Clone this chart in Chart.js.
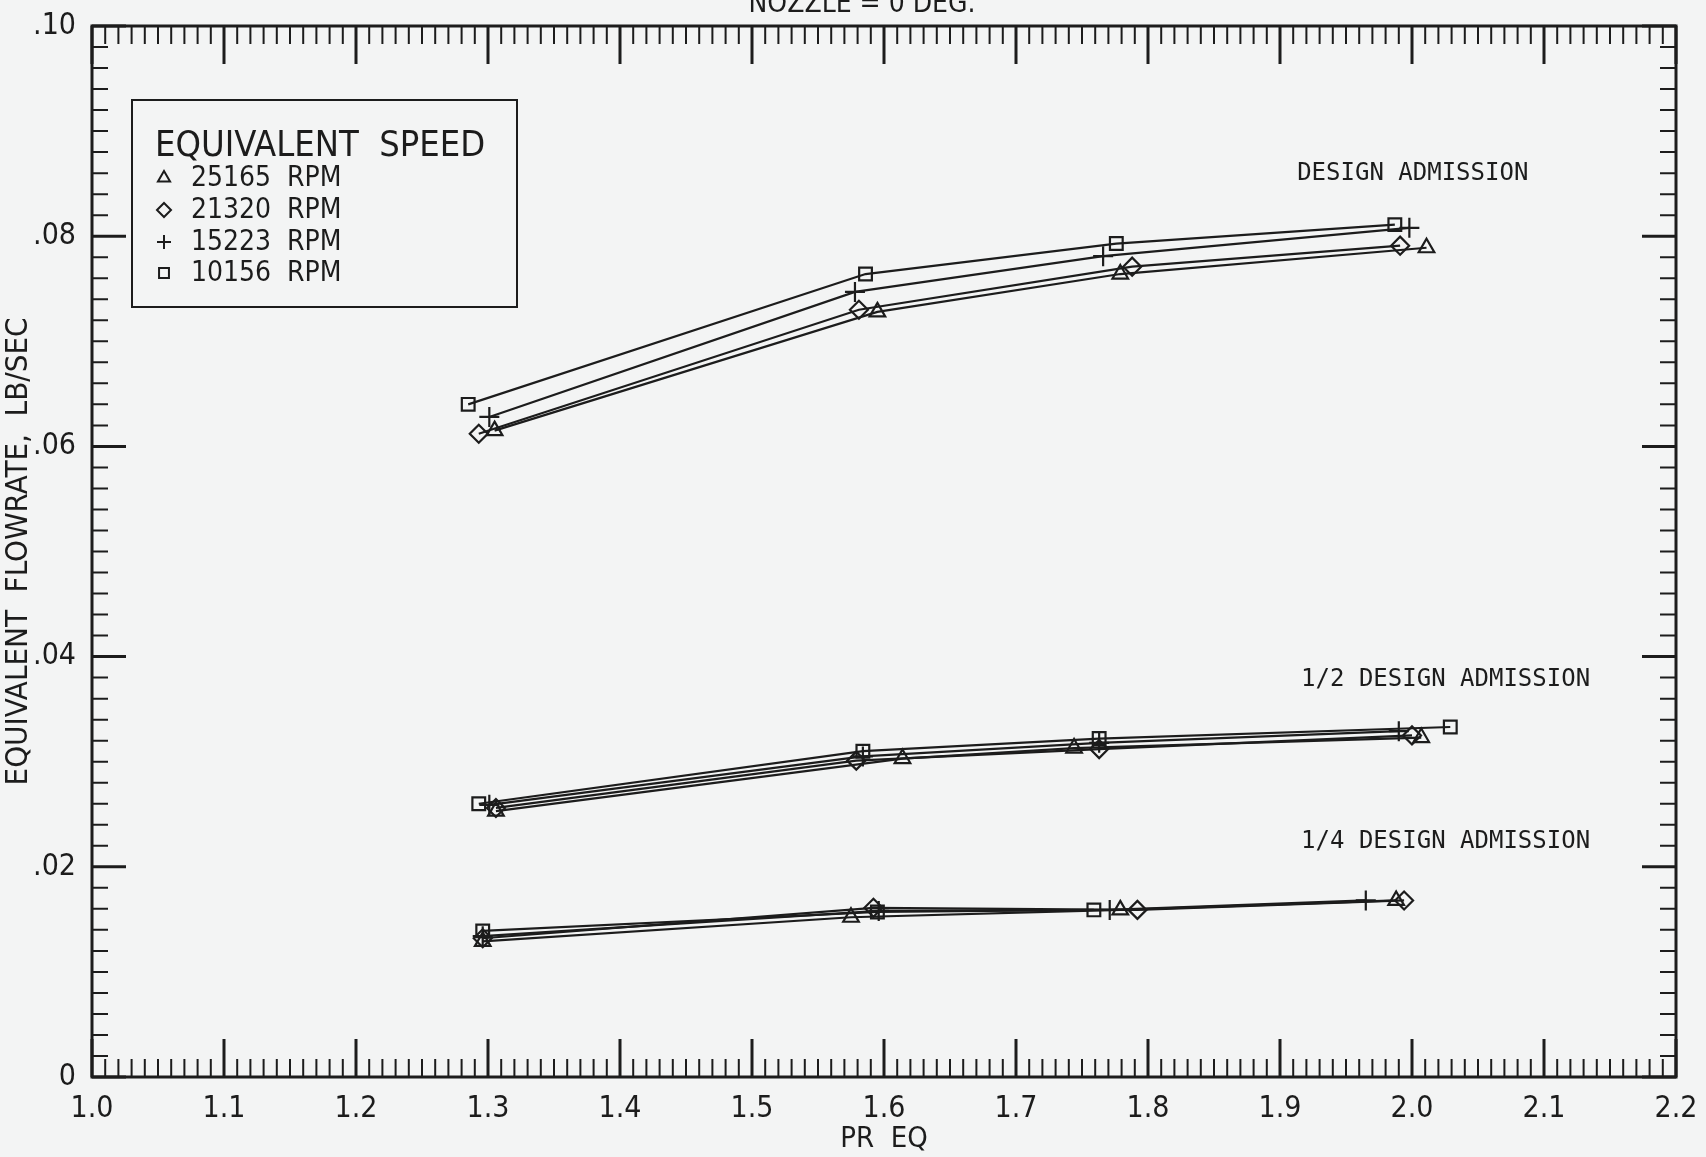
<!DOCTYPE html>
<html>
<head>
<meta charset="utf-8">
<script src="https://cdn.jsdelivr.net/npm/chart.js@4.4.1/dist/chart.umd.min.js"></script>
<style>
  html, body { margin: 0; padding: 0; background: #f3f4f4; }
  #wrap { width: 1706px; height: 1157px; }
</style>
</head>
<body>
<div id="wrap"><canvas id="flowChart" width="1706" height="1157"></canvas></div>
<script>
// Equivalent flowrate vs. pressure ratio, nozzle = 0 deg (plotter style chart)

const speedLabels = ['25165 RPM', '21320 RPM', '15223 RPM', '10156 RPM'];
const speedMarkers = ['triangle', 'rectRot', 'cross', 'rect'];

// [PR EQ, flowrate lb/sec] per speed
// design admission
const design25165 = [[1.305, 0.0615], [1.595, 0.0728], [1.779, 0.0764], [2.011, 0.0789]];
const design21320 = [[1.293, 0.0612], [1.581, 0.0730], [1.788, 0.0771], [1.991, 0.0791]];
const design15223 = [[1.301, 0.0628], [1.578, 0.0747], [1.766, 0.0781], [1.998, 0.0808]];
const design10156 = [[1.285, 0.0640], [1.586, 0.0764], [1.776, 0.0793], [1.987, 0.0811]];
// 1/2 design admission
const half25165 = [[1.306, 0.0253], [1.614, 0.0303], [1.744, 0.0313], [2.007, 0.0323]];
const half21320 = [[1.306, 0.0256], [1.579, 0.0301], [1.763, 0.0312], [2.000, 0.0325]];
const half15223 = [[1.301, 0.0259], [1.584, 0.0305], [1.763, 0.0318], [1.990, 0.0329]];
const half10156 = [[1.293, 0.0260], [1.584, 0.0310], [1.763, 0.0322], [2.029, 0.0333]];
// 1/4 design admission
const quarter25165 = [[1.296, 0.0129], [1.575, 0.0152], [1.779, 0.0159], [1.988, 0.0168]];
const quarter21320 = [[1.296, 0.0132], [1.592, 0.0161], [1.792, 0.0159], [1.994, 0.0168]];
const quarter15223 = [[1.296, 0.0134], [1.596, 0.0158], [1.771, 0.0159], [1.965, 0.0168]];
const quarter10156 = [[1.296, 0.0139], [1.595, 0.0157], [1.759, 0.0159]];

const xTickValues = [1.0, 1.1, 1.2, 1.3, 1.4, 1.5, 1.6, 1.7, 1.8, 1.9, 2.0, 2.1, 2.2];
const yTickValues = [0, 0.02, 0.04, 0.06, 0.08, 0.10];

const admissionNames = ['DESIGN ADMISSION', '1/2 DESIGN ADMISSION', '1/4 DESIGN ADMISSION'];
const admissionLabelX = [1.913, 1.916, 1.916];
const admissionLabelY = [0.0859, 0.0378, 0.0224];

const INK = '#1c1c1c';
const PAPER = '#f3f4f4';
const FONT = "'DejaVu Sans Condensed', 'Liberation Sans Narrow', sans-serif";
const MONO = "'DejaVu Sans Mono', 'Liberation Mono', monospace";

const groups = [
    [design25165, design21320, design15223, design10156],
    [half25165, half21320, half15223, half10156],
    [quarter25165, quarter21320, quarter15223, quarter10156]
];

const datasets = [];
groups.forEach((group, g) => {
    group.forEach((series, s) => {
        datasets.push({
            label: speedLabels[s] + ' #' + g,
            data: series.map(p => ({ x: p[0], y: p[1] })),
            borderColor: INK,
            borderWidth: 2.2,
            pointStyle: speedMarkers[s],
            pointRadius: speedMarkers[s] === 'cross' ? 10 : 9,
            pointBorderColor: INK,
            pointBorderWidth: 2.2,
            pointBackgroundColor: 'rgba(0,0,0,0)',
            tension: 0,
            fill: false
        });
    });
});

// inward pointing ticks, frame, title, legend box and the admission notes
const plotterDecor = {
    id: 'plotterDecor',
    beforeDraw(chart) {
        const ctx = chart.ctx;
        ctx.save();
        ctx.fillStyle = PAPER;
        ctx.fillRect(0, 0, chart.width, chart.height);
        ctx.restore();
    },
    afterDraw(chart) {
        const { ctx, chartArea: { left, right, top, bottom }, scales: { x, y } } = chart;
        ctx.save();
        ctx.strokeStyle = INK;

        // x minor ticks every 0.01, major every 0.1
        for (let i = 0; i <= 120; i++) {
            const px = x.getPixelForValue(1 + i * 0.01);
            const major = i % 10 === 0;
            const len = major ? 38 : 18;
            ctx.lineWidth = major ? 3 : 2;
            ctx.beginPath();
            ctx.moveTo(px, bottom); ctx.lineTo(px, bottom - len);
            ctx.moveTo(px, top); ctx.lineTo(px, top + len);
            ctx.stroke();
        }
        // y minor ticks every 0.002, major every 0.02
        for (let i = 0; i <= 50; i++) {
            const py = y.getPixelForValue(i * 0.002);
            const major = i % 10 === 0;
            const len = major ? 34 : 16;
            ctx.lineWidth = major ? 3 : 2;
            ctx.beginPath();
            ctx.moveTo(left, py); ctx.lineTo(left + len, py);
            ctx.moveTo(right, py); ctx.lineTo(right - len, py);
            ctx.stroke();
        }
        ctx.lineWidth = 3;
        ctx.strokeRect(left, top, right - left, bottom - top);

        // title, mostly cut off at the top edge of the sheet
        ctx.fillStyle = INK;
        ctx.font = '28px ' + FONT;
        ctx.textAlign = 'center';
        ctx.textBaseline = 'alphabetic';
        ctx.fillText('NOZZLE = 0 DEG.', 862, 12);

        // admission notes
        ctx.font = '24px ' + MONO;
        ctx.textAlign = 'left';
        ctx.textBaseline = 'middle';
        admissionNames.forEach((name, i) => {
            ctx.fillText(name, x.getPixelForValue(admissionLabelX[i]), y.getPixelForValue(admissionLabelY[i]));
        });

        // legend box
        ctx.fillStyle = PAPER;
        ctx.fillRect(132, 100, 385, 207);
        ctx.lineWidth = 2;
        ctx.strokeRect(132, 100, 385, 207);
        ctx.fillStyle = INK;
        ctx.font = '36px ' + FONT;
        ctx.textBaseline = 'alphabetic';
        ctx.fillText('EQUIVALENT  SPEED', 155, 156);
        ctx.font = '28px ' + FONT;
        const rowY = [178, 210, 242, 273];
        speedLabels.forEach((lab, i) => {
            ctx.fillStyle = 'rgba(0,0,0,0)';
            ctx.strokeStyle = INK;
            ctx.lineWidth = 2;
            Chart.helpers.drawPoint(ctx, {
                pointStyle: speedMarkers[i], radius: 7, borderWidth: 2
            }, 164, rowY[i]);
            ctx.fillStyle = INK;
            ctx.textBaseline = 'middle';
            ctx.fillText(lab.replace(' ', '  '), 191, rowY[i] + 1);
        });
        ctx.restore();
    }
};

const ctx = document.getElementById('flowChart').getContext('2d');
new Chart(ctx, {
    type: 'line',
    data: { datasets: datasets },
    options: {
        responsive: false,
        animation: false,
        devicePixelRatio: 1,
        layout: { padding: { top: 24, right: 30, left: 0, bottom: 0 } },
        plugins: { legend: { display: false }, tooltip: { enabled: false } },
        scales: {
            x: {
                type: 'linear',
                min: 1.0,
                max: 2.2,
                afterBuildTicks: scale => { scale.ticks = xTickValues.map(v => ({ value: v })); },
                afterFit: scale => { scale.height = 80; },
                grid: { display: false },
                border: { display: false },
                ticks: {
                    color: INK,
                    padding: 6,
                    font: { family: FONT, size: 30 },
                    maxRotation: 0,
                    callback: v => v.toFixed(1)
                },
                title: {
                    display: true,
                    text: 'PR  EQ',
                    color: INK,
                    font: { family: FONT, size: 29 },
                    padding: { top: 2, bottom: 0 }
                }
            },
            y: {
                type: 'linear',
                min: 0,
                max: 0.10,
                afterBuildTicks: scale => { scale.ticks = yTickValues.map(v => ({ value: v })); },
                afterFit: scale => { scale.width = 92; },
                grid: { display: false },
                border: { display: false },
                ticks: {
                    color: INK,
                    padding: 8,
                    font: { family: FONT, size: 30 },
                    callback: v => v === 0 ? '0' : v.toFixed(2).slice(1)
                },
                title: {
                    display: true,
                    text: 'EQUIVALENT  FLOWRATE,  LB/SEC',
                    color: INK,
                    font: { family: FONT, size: 31 },
                    padding: { top: 0, bottom: 2 }
                }
            }
        }
    },
    plugins: [plotterDecor]
});
</script>
</body>
</html>
